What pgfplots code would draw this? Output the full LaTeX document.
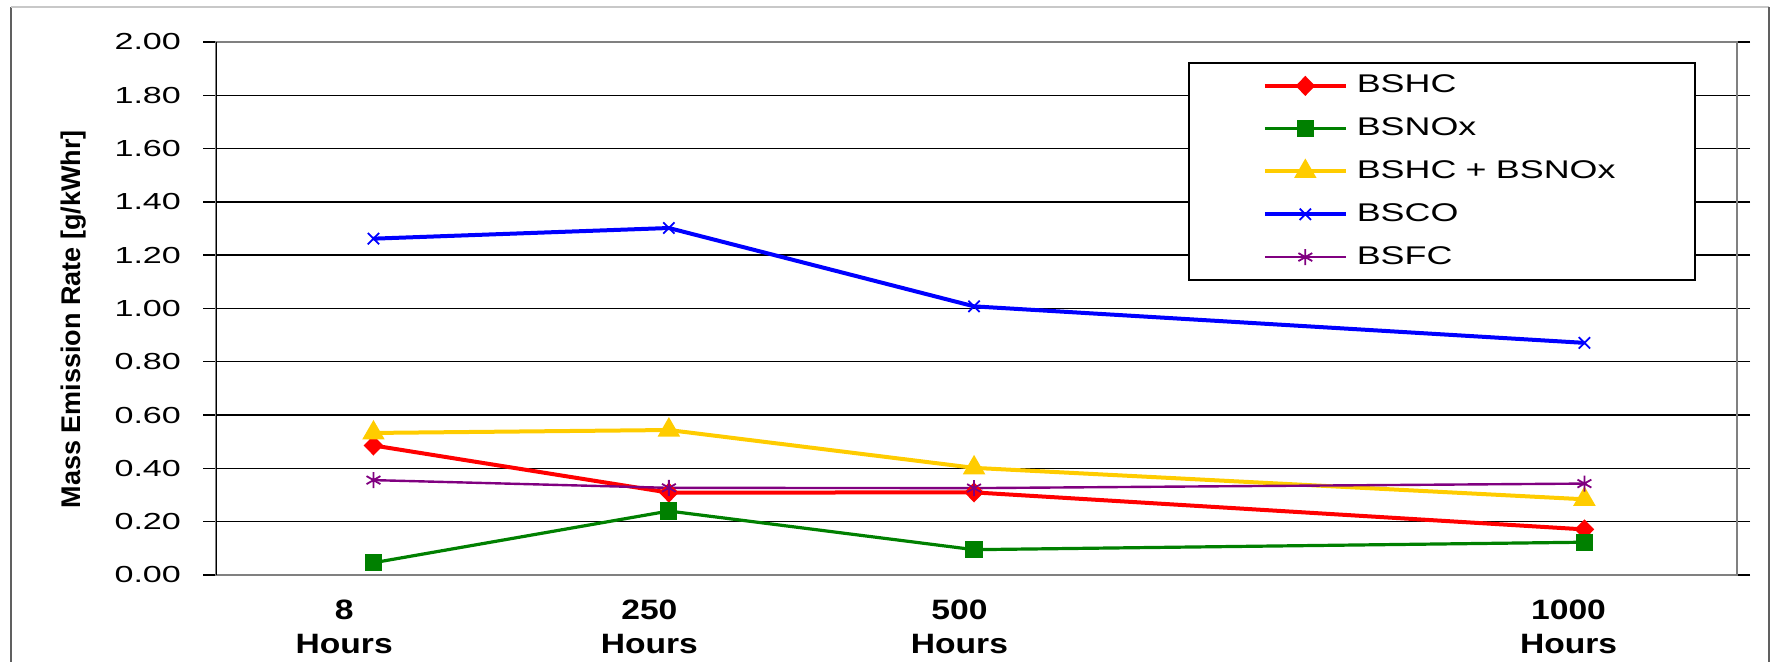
\documentclass[border=0pt]{standalone}
\usepackage{fontspec}
\setmainfont{Liberation Sans}
\usepackage{graphicx}
\usepackage{pgfplots}
\pgfplotsset{compat=1.18}
\definecolor{cRed}{HTML}{FF0000}
\definecolor{cGreen}{HTML}{008000}
\definecolor{cYellow}{HTML}{FFCC00}
\definecolor{cBlue}{HTML}{0000FF}
\definecolor{cPurple}{HTML}{800080}
\definecolor{frameDark}{HTML}{606060}
\definecolor{frameLight}{HTML}{C8C8C8}
\definecolor{boxGray}{HTML}{808080}
\newcommand{\wide}[2][1.5]{\scalebox{#1}[1]{#2}}
\newcommand{\leg}[1]{{\fontsize{12.8}{15}\selectfont\wide[1.4]{#1}}}
\newcommand{\xl}[1]{\wide[1.2]{#1}\\\wide[1.2]{Hours}}
\begin{document}
\begin{tikzpicture}
\path[use as bounding box] (0,0) rectangle (886pt,331pt);
\draw[frameDark, line width=1.2pt] (5.5pt,0) -- (5.5pt,327.5pt);
\draw[frameLight, line width=0.6pt] (5.5pt,327.5pt) -- (884.5pt,327.5pt);
\draw[frameDark, line width=1.2pt] (884.5pt,327.5pt) -- (884.5pt,0);
\begin{axis}[
  at={(108pt,43.5pt)}, anchor=south west,
  scale only axis, width=760.5pt, height=266.5pt,
  xmin=-121, xmax=1125, ymin=0, ymax=2,
  ytick={0,0.2,0.4,0.6,0.8,1,1.2,1.4,1.6,1.8,2},
  ymajorgrids, major grid style={black, line width=0.7pt},
  axis line style={boxGray, line width=1.2pt},
  tick align=outside, major tick length=6.5pt,
  ytick style={black, line width=0.7pt},
  xtick={-16,234,488,987},
  xticklabels={{\xl{8}},{\xl{250}},{\xl{500}},{\xl{1000}}},
  xtick style={draw=none},
  xticklabel style={align=center, font=\fontsize{14}{17}\selectfont\bfseries, yshift=-2.3pt},
  /pgf/number format/assume math mode=true,
  yticklabel={{\fontsize{11.6}{14}\selectfont\wide[1.47]{\pgfmathprintnumber[fixed,fixed zerofill,precision=2]{\tick}}}},
  yticklabel style={xshift=-7.5pt},
  ylabel={Mass Emission Rate [g/kWhr]},
  ylabel style={at={(axis description cs:-0.0937,0.48)}, anchor=center, font=\fontsize{13.5}{16}\selectfont\bfseries},
  legend cell align=left,
  legend style={at={(0.639,0.9625)}, anchor=north west, draw=black, line width=0.9pt,
    inner xsep=37pt, inner ysep=5pt, row sep=8.4pt, column sep=4.5pt,
    nodes={inner sep=0pt, text height=10pt, text depth=3pt},
    /tikz/every even column/.append style={text width=132pt}},
  legend image code/.code={\draw[mark repeat=2,mark phase=2] plot coordinates {(0pt,0pt) (20.25pt,0pt) (40.5pt,0pt)};},
]
\draw[black, line width=1.2pt] (rel axis cs:0,0) -- (rel axis cs:0,1);
\addplot[cRed, line width=2pt, mark=diamond*, mark size=3.6pt, mark options={solid, fill=cRed, xscale=1.3}]
  coordinates {(8,0.486) (250,0.309) (500,0.310) (1000,0.171)};
\addlegendentry{\leg{BSHC}}
\addplot[cGreen, line width=1.6pt, mark=square*, mark size=3.5pt, mark options={solid, fill=cGreen}]
  coordinates {(8,0.046) (250,0.240) (500,0.095) (1000,0.123)};
\addlegendentry{\leg{BSNOx}}
\addplot[cYellow, line width=2pt, mark=triangle*, mark size=4.5pt, mark options={solid, fill=cYellow}]
  coordinates {(8,0.533) (250,0.544) (500,0.402) (1000,0.284)};
\addlegendentry{\leg{BSHC + BSNOx}}
\addplot[cBlue, line width=2pt, mark=x, mark size=4pt, mark options={solid, line width=0.9pt}]
  coordinates {(8,1.262) (250,1.302) (500,1.008) (1000,0.871)};
\addlegendentry{\leg{BSCO}}
\addplot[cPurple, line width=1.2pt, mark=asterisk, mark size=4pt, mark options={solid, line width=0.9pt}]
  coordinates {(8,0.356) (250,0.327) (500,0.326) (1000,0.343)};
\addlegendentry{\leg{BSFC}}
\end{axis}
\end{tikzpicture}
\end{document}
